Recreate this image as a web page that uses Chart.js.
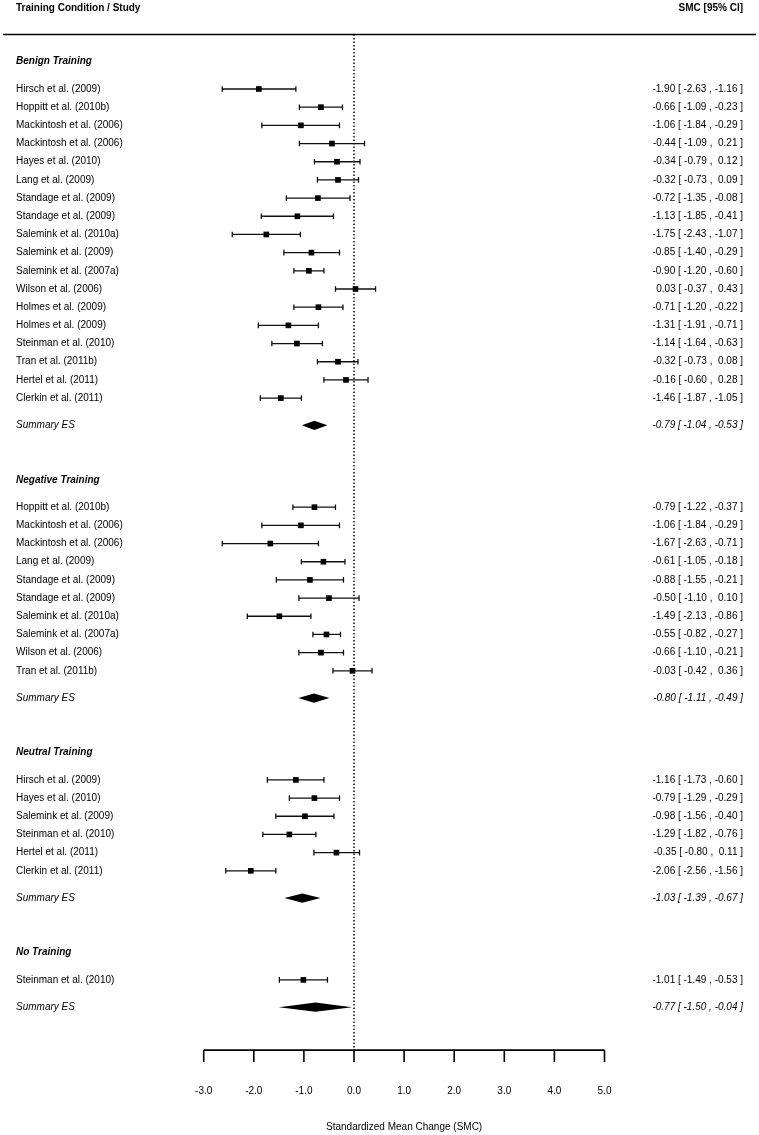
<!DOCTYPE html>
<html><head><meta charset="utf-8">
<script src="https://cdn.jsdelivr.net/npm/chart.js@4/dist/chart.umd.min.js"></script>
<style>html,body{margin:0;padding:0;background:#fff}canvas{display:block}</style>
</head><body><canvas id="c" width="759" height="1135"></canvas>
<script>
// ---- data ----
const groupNames = ['Benign Training', 'Negative Training', 'Neutral Training', 'No Training'];

const benignStudies = ['Hirsch et al. (2009)','Hoppitt et al. (2010b)','Mackintosh et al. (2006)','Mackintosh et al. (2006)','Hayes et al. (2010)','Lang et al. (2009)','Standage et al. (2009)','Standage et al. (2009)','Salemink et al. (2010a)','Salemink et al. (2009)','Salemink et al. (2007a)','Wilson et al. (2006)','Holmes et al. (2009)','Holmes et al. (2009)','Steinman et al. (2010)','Tran et al. (2011b)','Hertel et al. (2011)','Clerkin et al. (2011)'];
const benignEst = [-1.90,-0.66,-1.06,-0.44,-0.34,-0.32,-0.72,-1.13,-1.75,-0.85,-0.90,0.03,-0.71,-1.31,-1.14,-0.32,-0.16,-1.46];
const benignLo  = [-2.63,-1.09,-1.84,-1.09,-0.79,-0.73,-1.35,-1.85,-2.43,-1.40,-1.20,-0.37,-1.20,-1.91,-1.64,-0.73,-0.60,-1.87];
const benignHi  = [-1.16,-0.23,-0.29,0.21,0.12,0.09,-0.08,-0.41,-1.07,-0.29,-0.60,0.43,-0.22,-0.71,-0.63,0.08,0.28,-1.05];

const negativeStudies = ['Hoppitt et al. (2010b)','Mackintosh et al. (2006)','Mackintosh et al. (2006)','Lang et al. (2009)','Standage et al. (2009)','Standage et al. (2009)','Salemink et al. (2010a)','Salemink et al. (2007a)','Wilson et al. (2006)','Tran et al. (2011b)'];
const negativeEst = [-0.79,-1.06,-1.67,-0.61,-0.88,-0.50,-1.49,-0.55,-0.66,-0.03];
const negativeLo  = [-1.22,-1.84,-2.63,-1.05,-1.55,-1.10,-2.13,-0.82,-1.10,-0.42];
const negativeHi  = [-0.37,-0.29,-0.71,-0.18,-0.21,0.10,-0.86,-0.27,-0.21,0.36];

const neutralStudies = ['Hirsch et al. (2009)','Hayes et al. (2010)','Salemink et al. (2009)','Steinman et al. (2010)','Hertel et al. (2011)','Clerkin et al. (2011)'];
const neutralEst = [-1.16,-0.79,-0.98,-1.29,-0.35,-2.06];
const neutralLo  = [-1.73,-1.29,-1.56,-1.82,-0.80,-2.56];
const neutralHi  = [-0.60,-0.29,-0.40,-0.76,0.11,-1.56];

const noTrainStudies = ['Steinman et al. (2010)'];
const noTrainEst = [-1.01];
const noTrainLo  = [-1.49];
const noTrainHi  = [-0.53];

const summaryEst = [-0.79,-0.80,-1.03,-0.77];
const summaryLo  = [-1.04,-1.11,-1.39,-1.50];
const summaryHi  = [-0.53,-0.49,-0.67,-0.04];

const xTicks = [-3,-2,-1,0,1,2,3,4,5];
const xTickLabels = ['-3.0','-2.0','-1.0','0.0','1.0','2.0','3.0','4.0','5.0'];
const headerLeft = 'Training Condition / Study';
const headerRight = 'SMC [95% CI]';
const axisTitle = 'Standardized Mean Change (SMC)';
const summaryLabel = 'Summary ES';

// ---- layout of rows (row index units) ----
const groups = [
  {name: groupNames[0], studies: benignStudies, est: benignEst, lo: benignLo, hi: benignHi},
  {name: groupNames[1], studies: negativeStudies, est: negativeEst, lo: negativeLo, hi: negativeHi},
  {name: groupNames[2], studies: neutralStudies, est: neutralEst, lo: neutralLo, hi: neutralHi},
  {name: groupNames[3], studies: noTrainStudies, est: noTrainEst, lo: noTrainLo, hi: noTrainHi}
];
const headerRows = [], studyRows = [], summaryRows = [];
let r = -1.5;
groups.forEach((g, gi) => {
  headerRows.push({row: r, text: g.name});
  r += 1.5;
  g.studies.forEach((s, si) => {
    studyRows.push({row: r, text: s, est: g.est[si], lo: g.lo[si], hi: g.hi[si]});
    r += 1;
  });
  r += 0.5;
  summaryRows.push({row: r, est: summaryEst[gi], lo: summaryLo[gi], hi: summaryHi[gi]});
  r += 3;
});
const axisRow = 52.86, topLineRow = -3, headerTextRow = -4.45;

function fmt(v){ return (v < 0 ? '-' : ' ') + Math.abs(v).toFixed(2); }
function ciText(e,l,h){ return fmt(e) + ' [ ' + fmt(l) + ' , ' + fmt(h) + ' ]'; }

const FONT = '"Liberation Sans", Arial, Helvetica, sans-serif';

const forestPlugin = {
  id: 'forest',
  beforeDatasetsDraw(chart) {
    const ctx = chart.ctx, xs = chart.scales.x, ys = chart.scales.y;
    ctx.save();
    // top header line
    ctx.strokeStyle = '#000'; ctx.lineWidth = 1.6;
    const yt = ys.getPixelForValue(topLineRow);
    ctx.beginPath(); ctx.moveTo(3, yt); ctx.lineTo(756, yt); ctx.stroke();
    // reference dotted line
    const x0 = xs.getPixelForValue(0), ya = ys.getPixelForValue(axisRow);
    ctx.setLineDash([1.6, 1.9]); ctx.lineWidth = 1.4;
    ctx.beginPath(); ctx.moveTo(x0, yt); ctx.lineTo(x0, ya); ctx.stroke();
    ctx.setLineDash([]);
    // axis
    ctx.lineWidth = 1.6;
    ctx.beginPath();
    ctx.moveTo(xs.getPixelForValue(xTicks[0]), ya);
    ctx.lineTo(xs.getPixelForValue(xTicks[xTicks.length-1]), ya);
    ctx.stroke();
    xTicks.forEach(t => {
      const px = xs.getPixelForValue(t);
      ctx.beginPath(); ctx.moveTo(px, ya); ctx.lineTo(px, ya + 12); ctx.stroke();
    });
    // CI lines
    ctx.lineWidth = 1.3; ctx.strokeStyle = '#111';
    studyRows.forEach(s => {
      const y = ys.getPixelForValue(s.row);
      const xl = xs.getPixelForValue(s.lo), xh = xs.getPixelForValue(s.hi);
      ctx.beginPath();
      ctx.moveTo(xl, y); ctx.lineTo(xh, y);
      ctx.moveTo(xl, y - 2.8); ctx.lineTo(xl, y + 2.8);
      ctx.moveTo(xh, y - 2.8); ctx.lineTo(xh, y + 2.8);
      ctx.stroke();
    });
    // summary diamonds
    ctx.fillStyle = '#000';
    summaryRows.forEach(s => {
      const y = ys.getPixelForValue(s.row);
      const xl = xs.getPixelForValue(s.lo), xh = xs.getPixelForValue(s.hi), xe = xs.getPixelForValue(s.est);
      ctx.beginPath();
      ctx.moveTo(xl, y); ctx.lineTo(xe, y - 4.6); ctx.lineTo(xh, y); ctx.lineTo(xe, y + 4.6);
      ctx.closePath(); ctx.fill();
    });
    ctx.restore();
  },
  afterDraw(chart) {
    const ctx = chart.ctx, xs = chart.scales.x, ys = chart.scales.y;
    ctx.save();
    ctx.fillStyle = '#000';
    ctx.textBaseline = 'middle';
    // header
    const yh = ys.getPixelForValue(headerTextRow);
    ctx.font = 'bold 10px ' + FONT;
    ctx.textAlign = 'left'; ctx.fillText(headerLeft, 16, yh);
    ctx.textAlign = 'right'; ctx.fillText(headerRight, 743, yh);
    // group headers
    ctx.font = 'italic bold 10px ' + FONT; ctx.textAlign = 'left';
    headerRows.forEach(h => ctx.fillText(h.text, 16, ys.getPixelForValue(h.row)));
    // studies
    ctx.font = '10px ' + FONT;
    studyRows.forEach(s => {
      const y = ys.getPixelForValue(s.row);
      ctx.textAlign = 'left'; ctx.fillText(s.text, 16, y);
      ctx.textAlign = 'right'; ctx.fillText(ciText(s.est, s.lo, s.hi), 743, y);
    });
    // summaries
    ctx.font = 'italic 10px ' + FONT;
    summaryRows.forEach(s => {
      const y = ys.getPixelForValue(s.row);
      ctx.textAlign = 'left'; ctx.fillText(summaryLabel, 16, y);
      ctx.textAlign = 'right'; ctx.fillText(ciText(s.est, s.lo, s.hi), 743, y);
    });
    // tick labels and axis title
    ctx.font = '10px ' + FONT; ctx.textAlign = 'center';
    const ya = ys.getPixelForValue(axisRow);
    xTicks.forEach((t, i) => ctx.fillText(xTickLabels[i], xs.getPixelForValue(t), ya + 41));
    ctx.fillText(axisTitle, (xs.getPixelForValue(xTicks[0]) + xs.getPixelForValue(xTicks[xTicks.length-1])) / 2, ya + 77);
    ctx.restore();
  }
};

new Chart(document.getElementById('c'), {
  type: 'scatter',
  data: {
    datasets: [{
      data: studyRows.map(s => ({x: s.est, y: s.row})),
      pointStyle: 'rect',
      pointRadius: 4,
      backgroundColor: '#000',
      borderWidth: 0
    }]
  },
  options: {
    responsive: false,
    animation: false,
    devicePixelRatio: 1,
    layout: {padding: 0, autoPadding: false},
    plugins: {legend: {display: false}, tooltip: {enabled: false}},
    scales: {
      x: {type: 'linear', display: false, min: -7.066, max: 8.084},
      y: {type: 'linear', display: false, min: -4.895, max: 57.53, reverse: true}
    }
  },
  plugins: [forestPlugin]
});
</script>
</body></html>
